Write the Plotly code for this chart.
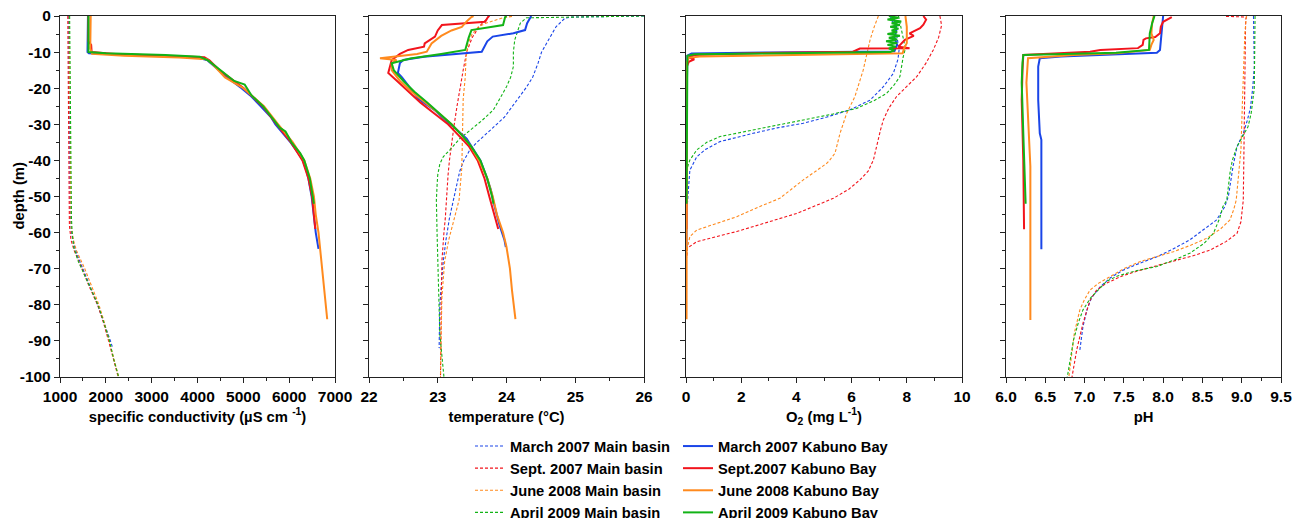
import plotly.graph_objects as go
from plotly.subplots import make_subplots

# ---------------------------------------------------------------------------
# Profile data: (depth [m], value) pairs, depth negative downward
# ---------------------------------------------------------------------------
SERIES_MAIN = ["March 2007 Main basin", "Sept. 2007 Main basin",
               "June 2008 Main basin", "April 2009 Main basin"]
SERIES_KABUNO = ["March 2007 Kabuno Bay", "Sept.2007 Kabuno Bay",
                 "June 2008 Kabuno Bay", "April 2009 Kabuno Bay"]
COLORS = ["#1a45e8", "#f2141c", "#ff8a1e", "#12b316"]

# specific conductivity (uS/cm)
COND_MB_MAR07 = [(0, 1185), (-10, 1190), (-20, 1195), (-30, 1200), (-40, 1205), (-50, 1215),
                 (-55, 1225), (-60, 1250), (-63, 1300), (-66, 1370), (-70, 1500), (-75, 1650),
                 (-80, 1820), (-85, 1960), (-88, 2050), (-90, 2100), (-92, 2150)]
COND_MB_SEP07 = [(0, 1170), (-10, 1175), (-30, 1185), (-50, 1195), (-58, 1205), (-62, 1240),
                 (-65, 1310), (-70, 1480), (-75, 1640), (-80, 1820), (-85, 1950), (-90, 2060),
                 (-95, 2160), (-100, 2270)]
COND_MB_JUN08 = [(0, 1200), (-10, 1205), (-30, 1215), (-50, 1225), (-58, 1240), (-62, 1290),
                 (-65, 1360), (-70, 1540), (-75, 1700), (-80, 1850), (-85, 1970), (-90, 2070),
                 (-95, 2170), (-100, 2280)]
COND_MB_APR09 = [(0, 1210), (-10, 1215), (-30, 1225), (-50, 1240), (-56, 1250), (-60, 1265),
                 (-64, 1300), (-68, 1400), (-70, 1470), (-75, 1640), (-80, 1830), (-85, 1960),
                 (-90, 2080), (-95, 2170), (-100, 2280)]
COND_KB_MAR07 = [(0, 1610), (-5, 1605), (-10, 1600), (-10.3, 1630), (-10.6, 2300), (-11, 3300),
                 (-11.5, 4000), (-12.3, 4220), (-13.5, 4330), (-15, 4450), (-17, 4650), (-20, 4960),
                 (-22, 5150), (-25, 5380), (-28, 5600), (-30, 5700), (-33, 5900), (-35, 6030),
                 (-38, 6200), (-40, 6300), (-43, 6380), (-45, 6420), (-50, 6490), (-55, 6530),
                 (-60, 6580), (-64.5, 6640)]
COND_KB_SEP07 = [(0, 1620), (-7, 1620), (-8, 1680), (-10, 1690), (-10.5, 2200), (-11, 3400),
                 (-11.4, 4150), (-12.3, 4260), (-15, 4480), (-20, 5010), (-25, 5420), (-30, 5730),
                 (-35, 6040), (-40, 6290), (-45, 6420), (-50, 6500), (-55, 6545), (-59, 6570)]
COND_KB_JUN08 = [(0, 1670), (-9, 1660), (-10.5, 1700), (-11, 2400), (-11.5, 3600), (-12, 4200),
                 (-13, 4300), (-15, 4460), (-17, 4600), (-20, 5000), (-25, 5450), (-30, 5760),
                 (-35, 6080), (-40, 6330), (-45, 6460), (-50, 6540), (-55, 6580), (-60, 6640),
                 (-65, 6680), (-70, 6720), (-75, 6760), (-80, 6800), (-84, 6830)]
COND_KB_APR09 = [(0, 1620), (-10, 1620), (-10.3, 2000), (-10.8, 3300), (-11.3, 4050),
                 (-12.3, 4230), (-14, 4400), (-16, 4600), (-18, 4800), (-19, 5030), (-22, 5180),
                 (-25, 5430), (-28, 5620), (-31, 5800), (-32, 5920), (-35, 6050), (-38, 6240),
                 (-40, 6330), (-45, 6450), (-50, 6520), (-52, 6540)]

# temperature (deg C)
TEMP_MB_MAR07 = [(0, 26.0), (-0.3, 24.95), (-0.6, 24.85), (-3, 24.72), (-5, 24.66), (-8, 24.57),
                 (-10, 24.51), (-13, 24.46), (-17, 24.38), (-20, 24.28), (-22, 24.2), (-25, 24.08),
                 (-28, 23.97), (-31, 23.8), (-33, 23.68), (-35, 23.57), (-37, 23.47), (-40, 23.38),
                 (-43, 23.32), (-48, 23.26), (-51, 23.23), (-56, 23.17), (-62, 23.12), (-68, 23.08),
                 (-75, 23.05), (-80, 23.03), (-92, 23.02)]
TEMP_MB_SEP07 = [(0, 23.75), (-1, 23.7), (-3, 23.6), (-6, 23.5), (-10, 23.42), (-15, 23.37),
                 (-20, 23.32), (-25, 23.28), (-30, 23.24), (-35, 23.2), (-40, 23.17), (-44, 23.15),
                 (-51, 23.13), (-56, 23.11), (-60, 23.09), (-68, 23.06), (-80, 23.05), (-100, 23.04)]
TEMP_MB_JUN08 = [(-0.1, 24.08), (-0.5, 23.95), (-2, 23.7), (-3, 23.59), (-5, 23.5), (-7.6, 23.44),
                 (-12, 23.41), (-17, 23.4), (-23, 23.37), (-30, 23.36), (-42, 23.35), (-51, 23.31),
                 (-56, 23.24), (-62, 23.16), (-68, 23.1), (-78, 23.06), (-88, 23.05), (-100, 23.04)]
TEMP_MB_APR09 = [(0, 26.0), (-0.3, 24.4), (-0.5, 24.29), (-2, 24.2), (-4, 24.17), (-6.6, 24.12),
                 (-10, 24.1), (-14, 24.1), (-17, 24.06), (-19.6, 24.0), (-23, 23.9), (-26, 23.81),
                 (-29, 23.64), (-31.6, 23.47), (-34, 23.32), (-37, 23.18), (-39, 23.08), (-41, 23.03),
                 (-44, 23.0), (-47, 22.99), (-51, 22.98), (-60, 22.99), (-72, 23.01), (-88, 23.03),
                 (-100, 23.09)]
TEMP_KB_MAR07 = [(0, 24.36), (-0.6, 24.34), (-2, 24.3), (-3.9, 24.27), (-4.8, 24.1), (-5.7, 23.8),
                 (-7, 23.72), (-9.9, 23.64), (-10.5, 23.3), (-11.3, 22.8), (-12.2, 22.5), (-13, 22.45),
                 (-15.8, 22.42), (-17, 22.48), (-20, 22.6), (-23, 22.72), (-26, 22.95), (-29, 23.12),
                 (-31, 23.25), (-34, 23.42), (-37, 23.52), (-40, 23.62), (-44, 23.7), (-48, 23.77),
                 (-53, 23.83), (-58, 23.9), (-62, 23.97), (-64, 23.99)]
TEMP_KB_SEP07 = [(0, 23.75), (-0.3, 23.73), (-1.6, 23.69), (-2.5, 23.06), (-4, 23.0), (-5.7, 22.96),
                 (-7.6, 22.81), (-8.5, 22.8), (-9.4, 22.57), (-10.5, 22.45), (-12.2, 22.33),
                 (-14, 22.3), (-15.8, 22.28), (-18.2, 22.42), (-21, 22.58), (-24, 22.75), (-27, 22.95),
                 (-30, 23.15), (-33, 23.3), (-36, 23.45), (-40, 23.58), (-45, 23.68), (-50, 23.75),
                 (-55, 23.82), (-59, 23.88)]
TEMP_KB_JUN08 = [(0, 23.52), (-0.3, 23.49), (-1.5, 23.42), (-3, 23.35), (-4, 23.2), (-5.5, 23.05),
                 (-7.6, 22.91), (-9.9, 22.84), (-10.5, 22.7), (-11.2, 22.4), (-11.7, 22.16),
                 (-12.2, 22.4), (-13.1, 22.33), (-15, 22.33), (-18, 22.45), (-21, 22.62), (-24, 22.82),
                 (-27, 23.02), (-30, 23.2), (-33, 23.35), (-36, 23.48), (-40, 23.6), (-45, 23.72),
                 (-50, 23.8), (-55, 23.86), (-60, 23.95), (-64, 24.0), (-70, 24.05), (-76, 24.08),
                 (-84, 24.13)]
TEMP_KB_APR09 = [(0, 24.0), (-0.3, 23.98), (-2.5, 23.95), (-3.9, 23.49), (-6, 23.45), (-9.4, 23.4),
                 (-10.5, 23.05), (-11.8, 22.6), (-13.1, 22.33), (-15, 22.36), (-18, 22.5),
                 (-21, 22.66), (-24, 22.85), (-27, 23.02), (-30, 23.2), (-33, 23.35), (-36, 23.48),
                 (-40, 23.62), (-45, 23.72), (-50, 23.79), (-52, 23.81)]

# dissolved oxygen (mg/L)
O2_MB_MAR07 = [(0, 7.4), (-3, 7.55), (-6, 7.65), (-9.4, 7.72), (-12, 7.68), (-15.9, 7.51),
               (-19.6, 7.15), (-23.3, 6.67), (-26, 5.94), (-28, 5.1), (-29.7, 4.25), (-31, 3.3),
               (-32.5, 2.43), (-34.8, 1.23), (-37, 0.7), (-39, 0.39), (-42.7, 0.14), (-48, 0.08),
               (-52, 0.05)]
O2_MB_SEP07 = [(0, 9.2), (-2.6, 9.26), (-6, 9.15), (-9.4, 8.96), (-13, 8.7), (-16.8, 8.36),
               (-19.5, 8.0), (-22.3, 7.63), (-25.5, 7.35), (-28.8, 7.15), (-31.5, 7.05), (-34.3, 6.97),
               (-39.9, 6.79), (-43, 6.6), (-45.4, 6.3), (-48, 5.9), (-50.5, 5.34), (-54.7, 4.01),
               (-57, 3.0), (-59.7, 1.84), (-61.5, 0.9), (-62.5, 0.39), (-64.3, 0.05), (-67, 0.03)]
O2_MB_JUN08 = [(0, 6.97), (-3, 6.82), (-6.6, 6.67), (-15, 6.42), (-22.3, 6.12), (-27, 5.82),
               (-32.5, 5.58), (-36, 5.48), (-38, 5.4), (-40, 5.2), (-40.8, 5.1), (-43, 4.7),
               (-45.4, 4.25), (-50.5, 3.4), (-53, 2.6), (-55.6, 1.84), (-57.5, 1.1), (-59.3, 0.39),
               (-61.1, 0.14), (-64.3, 0.05), (-66, 0.03)]
O2_MB_APR09 = [(0, 7.7), (-5, 7.85), (-9, 7.95), (-11.3, 7.87), (-14, 7.82), (-16.8, 7.75),
               (-19, 7.55), (-21.4, 7.27), (-23.5, 6.8), (-25.6, 6.18), (-27.2, 5.3), (-28.8, 4.25),
               (-30.2, 3.3), (-31.6, 2.44), (-33.4, 1.23), (-35, 0.75), (-37.1, 0.39), (-39.9, 0.14),
               (-42, 0.05), (-45, 0.03)]
O2_KB_MAR07 = [(0, 7.45), (-2, 7.6), (-4, 7.62), (-6, 7.55), (-8, 7.65), (-9.8, 7.55),
               (-10.1, 3.0), (-10.4, 0.2), (-11, 0.05), (-20, 0.03), (-40, 0.02), (-64, 0.02)]
O2_KB_SEP07 = [(0, 8.6), (-1, 8.7), (-2.4, 8.6), (-3.4, 8.48), (-4.8, 8.1), (-5.5, 8.25),
               (-6.6, 7.93), (-7.5, 7.81), (-8.5, 7.7), (-8.9, 8.1), (-9.0, 6.3), (-9.9, 6.05),
               (-10.3, 2.5), (-10.8, 0.3), (-11.5, 0.1), (-12, 0.3), (-12.7, 0.1), (-14, 0.03),
               (-59, 0.02)]
O2_KB_JUN08 = [(0, 7.95), (-3, 8.0), (-7.5, 8.0), (-9, 7.9), (-10.3, 7.85), (-10.8, 4.0),
               (-11.2, 0.5), (-11.6, 0.1), (-13, 0.03), (-84, 0.02)]
O2_KB_APR09 = [(0, 7.35), (-0.5, 7.7), (-1, 7.3), (-1.5, 7.8), (-2, 7.45), (-2.5, 7.75), (-3, 7.4),
               (-3.5, 7.7), (-4, 7.45), (-4.5, 7.65), (-5, 7.3), (-5.5, 7.75), (-6, 7.35), (-6.5, 7.65),
               (-7, 7.25), (-7.5, 7.65), (-8, 7.3), (-8.5, 7.6), (-9, 7.35), (-9.5, 7.55), (-10, 7.4),
               (-10.3, 3.5), (-10.6, 0.3), (-11, 0.05), (-52, 0.02)]

# pH
PH_MB_MAR07 = [(0, 9.15), (-14, 9.16), (-20, 9.14), (-25.6, 9.11), (-29, 9.07), (-32.5, 9.02),
               (-36.2, 8.94), (-41.6, 8.89), (-50, 8.83), (-53, 8.78), (-56.5, 8.68), (-59, 8.53),
               (-62, 8.34), (-64.5, 8.13), (-66.7, 7.92), (-68.5, 7.7), (-70.4, 7.49), (-72.5, 7.33),
               (-75, 7.2), (-78, 7.09), (-81.4, 7.03), (-86, 6.98), (-92.5, 6.94)]
PH_MB_SEP07 = [(-0.1, 8.8), (-0.3, 9.06), (-1, 9.05), (-23.3, 9.04), (-51, 9.02), (-57, 8.99),
               (-60.2, 8.94), (-62.5, 8.8), (-64.8, 8.6), (-66.3, 8.4), (-67.6, 8.17), (-69, 7.95),
               (-70.4, 7.71), (-72, 7.48), (-74, 7.28), (-76, 7.15), (-78.7, 7.07), (-85.1, 6.98),
               (-92.5, 6.9), (-100, 6.84)]
PH_MB_JUN08 = [(0, 9.06), (-4.8, 9.04), (-23.3, 9.01), (-37, 8.99), (-51, 8.93), (-53.5, 8.9),
               (-56.5, 8.85), (-59, 8.73), (-61.6, 8.55), (-63.5, 8.35), (-65.3, 8.13), (-66.7, 7.92),
               (-68, 7.71), (-70, 7.5), (-72.2, 7.32), (-74, 7.18), (-75.9, 7.07), (-78.5, 7.0),
               (-81.4, 6.94), (-87.8, 6.87), (-100, 6.8)]
PH_MB_APR09 = [(0, 9.17), (-20, 9.16), (-27, 9.12), (-30.7, 9.08), (-33, 9.02), (-36.2, 8.94),
               (-40, 8.88), (-43.6, 8.85), (-51, 8.81), (-52.8, 8.76), (-56, 8.72), (-60.2, 8.64),
               (-63, 8.52), (-65.7, 8.34), (-67.5, 8.15), (-69.4, 7.92), (-70.6, 7.65), (-72, 7.42),
               (-73.5, 7.28), (-75.4, 7.2), (-78, 7.08), (-81.4, 6.98), (-85, 6.92), (-89.7, 6.86),
               (-95, 6.82), (-100, 6.78)]
PH_KB_MAR07 = [(0, 8.0), (-3, 7.99), (-5.7, 7.98), (-9.4, 7.96), (-10.2, 7.92), (-10.7, 7.3),
               (-11.2, 6.7), (-11.7, 6.43), (-14, 6.41), (-23.3, 6.41), (-32.5, 6.43), (-34.3, 6.45),
               (-50, 6.45), (-64.6, 6.45)]
PH_KB_SEP07 = [(-0.3, 8.11), (-1, 8.05), (-1.6, 8.0), (-3, 7.97), (-4.8, 7.96), (-5.8, 7.9),
               (-6.2, 7.78), (-6.6, 7.75), (-8, 7.74), (-8.9, 7.68), (-9.2, 7.35), (-9.4, 7.2),
               (-9.9, 7.07), (-10.3, 6.6), (-10.8, 6.22), (-15, 6.21), (-23.3, 6.2), (-40, 6.22),
               (-59.1, 6.23)]
PH_KB_JUN08 = [(0, 7.88), (-2, 7.86), (-4.8, 7.85), (-6.6, 7.88), (-8, 7.85), (-9.4, 7.83),
               (-10.3, 7.4), (-10.8, 6.86), (-11.7, 6.28), (-18.5, 6.26), (-41.6, 6.31),
               (-53.6, 6.31), (-84.2, 6.31)]
PH_KB_APR09 = [(0, 7.89), (-2, 7.86), (-4.8, 7.83), (-9.4, 7.82), (-10.2, 7.4), (-10.8, 6.22),
               (-13, 6.21), (-18.5, 6.2), (-32.5, 6.22), (-51, 6.25), (-52, 6.25)]

# axis tick labels
DEPTH_TICKS = [0, -10, -20, -30, -40, -50, -60, -70, -80, -90, -100]
DEPTH_LABELS = ["0", "-10", "-20", "-30", "-40", "-50", "-60", "-70", "-80", "-90", "-100"]
COND_TICKS = [1000, 2000, 3000, 4000, 5000, 6000, 7000]
TEMP_TICKS = [22, 23, 24, 25, 26]
O2_TICKS = [0, 2, 4, 6, 8, 10]
PH_TICKS = [6.0, 6.5, 7.0, 7.5, 8.0, 8.5, 9.0, 9.5]
PH_LABELS = ["6.0", "6.5", "7.0", "7.5", "8.0", "8.5", "9.0", "9.5"]

# ---------------------------------------------------------------------------
panels = [
    dict(main=[COND_MB_MAR07, COND_MB_SEP07, COND_MB_JUN08, COND_MB_APR09],
         kab=[COND_KB_MAR07, COND_KB_SEP07, COND_KB_JUN08, COND_KB_APR09]),
    dict(main=[TEMP_MB_MAR07, TEMP_MB_SEP07, TEMP_MB_JUN08, TEMP_MB_APR09],
         kab=[TEMP_KB_MAR07, TEMP_KB_SEP07, TEMP_KB_JUN08, TEMP_KB_APR09]),
    dict(main=[O2_MB_MAR07, O2_MB_SEP07, O2_MB_JUN08, O2_MB_APR09],
         kab=[O2_KB_MAR07, O2_KB_SEP07, O2_KB_JUN08, O2_KB_APR09]),
    dict(main=[PH_MB_MAR07, PH_MB_SEP07, PH_MB_JUN08, PH_MB_APR09],
         kab=[PH_KB_MAR07, PH_KB_SEP07, PH_KB_JUN08, PH_KB_APR09]),
]

fig = make_subplots(rows=1, cols=4, shared_yaxes=True)

W, H = 1298, 518
ML, MR, MT, MB = 60, 17, 16, 141
PW = W - ML - MR
PH_ = H - MT - MB
col_px = [(60, 335), (369, 644), (686, 962), (1006, 1281)]
domains = [((a - ML) / PW, (b - ML) / PW) for a, b in col_px]


def xy(profile):
    return [p[1] for p in profile], [p[0] for p in profile]


# dashed main-basin profiles first, solid Kabuno Bay profiles on top
for kind in ("main", "kab"):
    for i in range(4):
        for c, panel in enumerate(panels):
            xs, ys = xy(panel[kind][i])
            if kind == "main":
                line = dict(color=COLORS[i], width=1.1, dash="3px,2px")
                name = SERIES_MAIN[i]
                leg = "legend"
            else:
                line = dict(color=COLORS[i], width=2.0)
                name = SERIES_KABUNO[i]
                leg = "legend2"
            fig.add_trace(go.Scatter(x=xs, y=ys, mode="lines", line=line, name=name,
                                     legend=leg, showlegend=(c == 0), hoverinfo="skip"),
                          row=1, col=c + 1)

FONT = "Liberation Sans, Arial, sans-serif"
tick_font = dict(family=FONT, size=15.5, color="black", weight="bold")
title_font = dict(family=FONT, size=14.8, color="black", weight="bold")

axis_common = dict(showline=True, linecolor="#222", linewidth=1.3, mirror=True,
                   showgrid=False, zeroline=False, ticks="outside", ticklen=5,
                   tickwidth=1, tickcolor="#222", tickfont=tick_font)

x_specs = [
    dict(range=[1000, 7000], tickvals=COND_TICKS, tickformat="d", minor_dtick=500,
         title="specific conductivity (µS cm <sup>-1</sup>)"),
    dict(range=[22, 26], tickvals=TEMP_TICKS, minor_dtick=0.5, title="temperature (°C)"),
    dict(range=[0, 10], tickvals=O2_TICKS, minor_dtick=1, title="O<sub>2</sub> (mg L<sup>-1</sup>)"),
    dict(range=[6, 9.5], tickvals=PH_TICKS, ticktext=PH_LABELS, minor_dtick=0.25, title="pH"),
]

for c, spec in enumerate(x_specs):
    key = "xaxis" if c == 0 else f"xaxis{c + 1}"
    ax = dict(axis_common)
    ax.update(domain=list(domains[c]), range=spec["range"], tickvals=spec["tickvals"],
              minor=dict(ticks="outside", ticklen=3, dtick=spec["minor_dtick"],
                         tickcolor="#222", showgrid=False),
              title=dict(text=spec["title"], font=title_font, standoff=7))
    if "ticktext" in spec:
        ax["ticktext"] = spec["ticktext"]
    if "tickformat" in spec:
        ax["tickformat"] = spec["tickformat"]
    fig.layout[key].update(ax)

for c in range(4):
    key = "yaxis" if c == 0 else f"yaxis{c + 1}"
    ax = dict(axis_common)
    ax.update(range=[-100, 0], tickvals=DEPTH_TICKS, ticktext=DEPTH_LABELS,
              showticklabels=(c == 0),
              minor=dict(ticks="outside", ticklen=3, dtick=5, tickcolor="#222", showgrid=False))
    fig.layout[key].update(ax)

# depth label on the left of the first panel
fig.add_annotation(text="depth (m)", xref="paper", yref="paper",
                   x=(18 - ML) / PW, y=0.5, xanchor="center", yanchor="middle",
                   textangle=-90, showarrow=False, font=title_font)

leg_font = dict(family=FONT, size=14.7, color="black", weight="bold")
leg_y = 1 - (430 - MT) / PH_
fig.update_layout(
    width=W, height=H,
    margin=dict(l=ML, r=MR, t=MT, b=MB, autoexpand=False),
    plot_bgcolor="white", paper_bgcolor="white",
    font=dict(family=FONT, color="black"),
    legend=dict(x=(470 - ML) / PW, y=leg_y, xanchor="left", yanchor="top",
                font=leg_font, bgcolor="rgba(0,0,0,0)", tracegroupgap=0),
    legend2=dict(x=(678 - ML) / PW, y=leg_y, xanchor="left", yanchor="top",
                 font=leg_font, bgcolor="rgba(0,0,0,0)", tracegroupgap=0),
)

fig.write_html("out.html")
